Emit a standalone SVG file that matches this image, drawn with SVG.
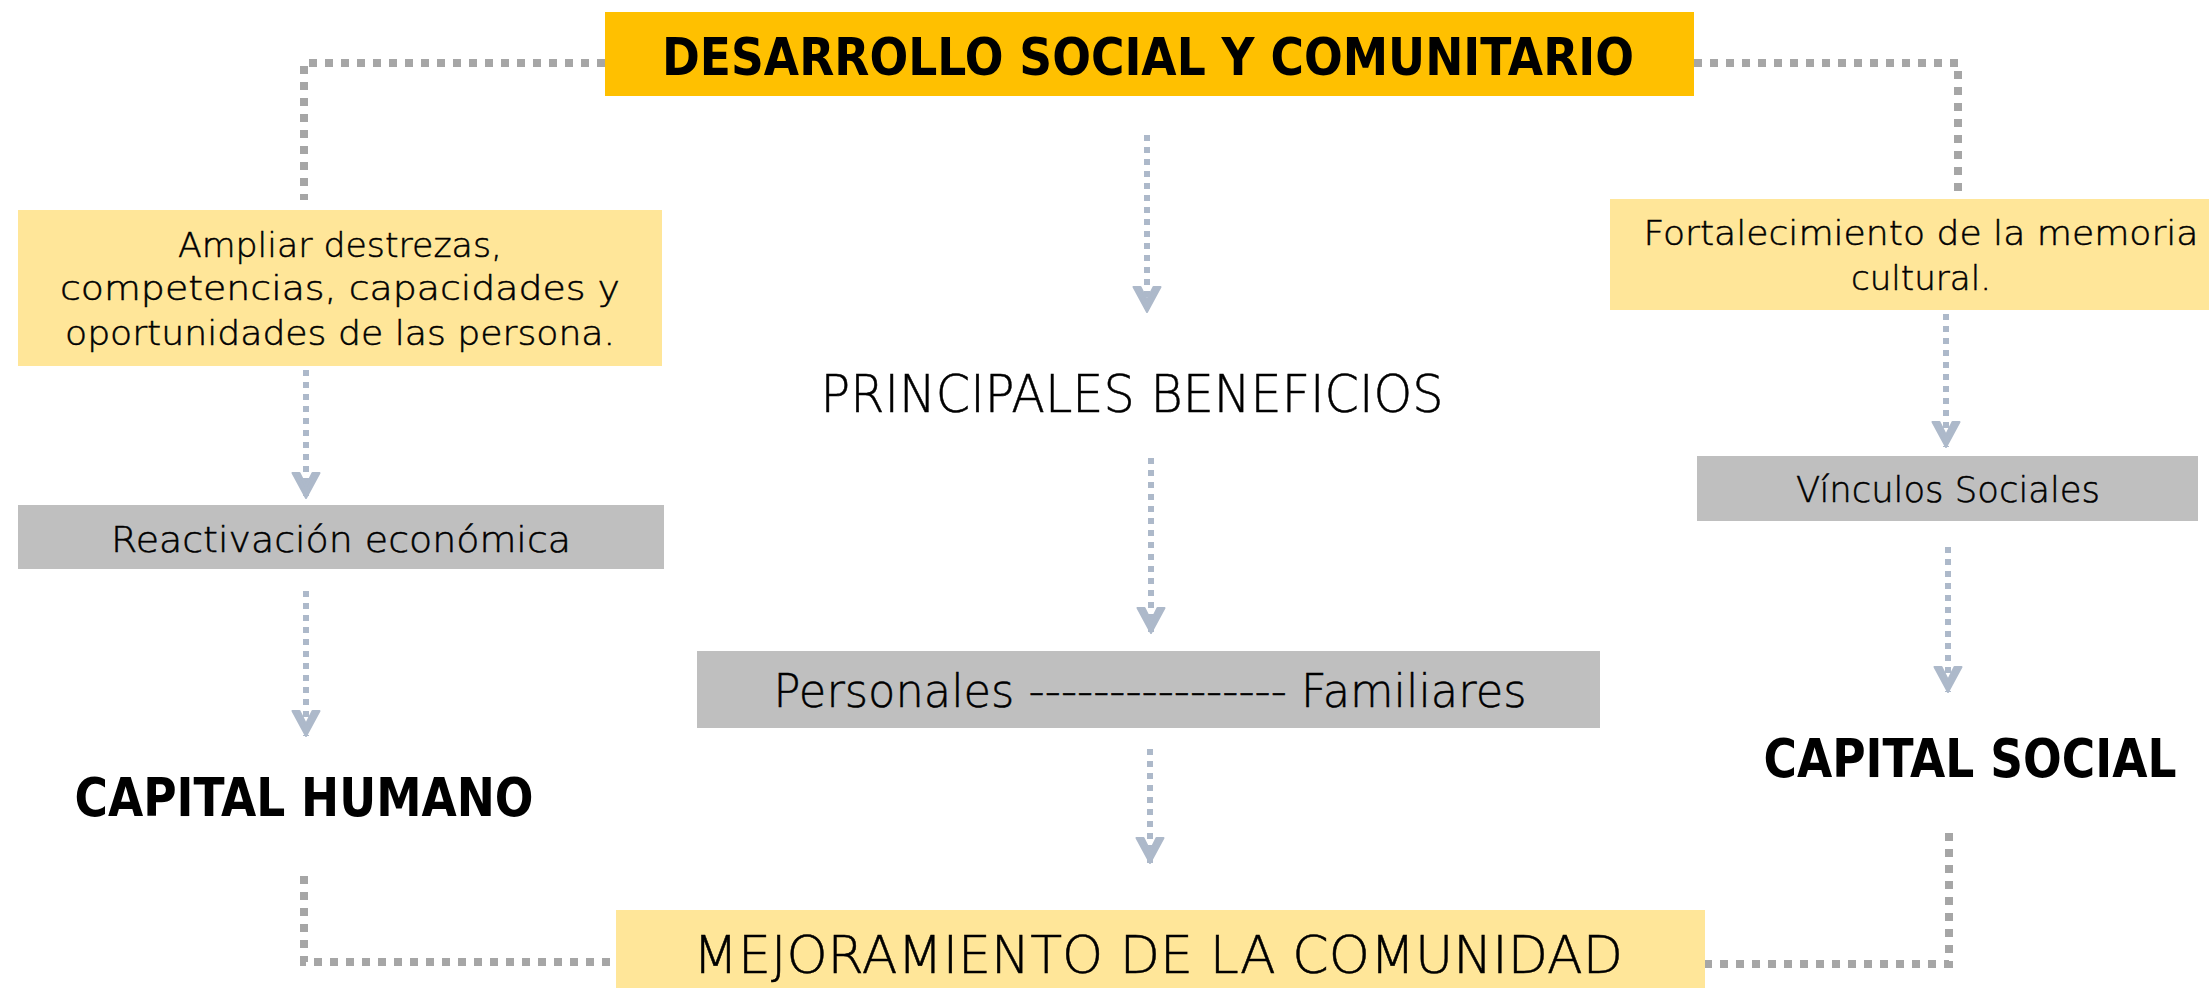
<svg xmlns="http://www.w3.org/2000/svg" width="2209" height="988" viewBox="0 0 2209 988">
  <style>
    .t { font-family: "DejaVu Sans", "Liberation Sans", sans-serif; fill: #000; text-anchor: middle; }
    .reg { font-weight: 200; stroke: #000; stroke-width: 0.5; }
    .bold { font-weight: bold; }
    .gold { fill: #FFC000; }
    .pale { fill: #FFE699; }
    .grey { fill: #BFBFBF; }
    .side { fill: none; stroke: #A6A6A6; stroke-width: 8; stroke-dasharray: 8 8; }
    .flow { fill: none; stroke: #ADB9CA; stroke-width: 6; stroke-dasharray: 6 6; marker-end: url(#arr); }
  </style>
  <defs>
    <marker id="arr" viewBox="-28 -16 30 32" refX="0" refY="0" markerWidth="30" markerHeight="32" markerUnits="userSpaceOnUse" orient="auto">
      <path d="M -25,-13.5 L 0,0 L -25,13.5 L -25,6.5 L -12,0 L -25,-6.5 Z" fill="#ADB9CA" stroke="#ADB9CA" stroke-width="2" stroke-linejoin="round"/>
    </marker>
  </defs>
  <rect width="2209" height="988" fill="#FFFFFF"/>

  <g id="connectors">
    <path class="side" d="M 605,63 L 304,63 L 304,200"/>
    <path class="side" d="M 1694,63 L 1958,63 L 1958,197"/>
    <path class="side" d="M 304,876 L 304,962 L 616,962"/>
    <path class="side" d="M 1949,833 L 1949,964 L 1705,964"/>
    <path class="flow" d="M 306,370 L 306,498"/>
    <path class="flow" d="M 306,591 L 306,736"/>
    <path class="flow" d="M 1147,135 L 1147,312"/>
    <path class="flow" d="M 1151,458 L 1151,633"/>
    <path class="flow" d="M 1150,749 L 1150,863"/>
    <path class="flow" d="M 1946,314 L 1946,447"/>
    <path class="flow" d="M 1948,547 L 1948,692"/>
  </g>

  <g id="desarrollo">
    <rect class="gold" x="605" y="12" width="1089" height="84"/>
    <text class="t bold" x="1148" y="75" font-size="52" textLength="972" lengthAdjust="spacingAndGlyphs">DESARROLLO SOCIAL Y COMUNITARIO</text>
  </g>

  <g id="ampliar">
    <rect class="pale" x="18" y="210" width="644" height="156"/>
    <text class="t reg" x="340" y="257" font-size="34" textLength="324" lengthAdjust="spacingAndGlyphs">Ampliar destrezas,</text>
    <text class="t reg" x="340" y="300" font-size="34" textLength="560" lengthAdjust="spacingAndGlyphs">competencias, capacidades y</text>
    <text class="t reg" x="340" y="345" font-size="34" textLength="550" lengthAdjust="spacingAndGlyphs">oportunidades de las persona.</text>
  </g>

  <g id="reactivacion">
    <rect class="grey" x="18" y="505" width="646" height="64"/>
    <text class="t reg" x="341" y="552" font-size="35" textLength="460" lengthAdjust="spacingAndGlyphs">Reactivación económica</text>
  </g>

  <g id="capital-humano">
    <text class="t bold" x="304" y="816" font-size="53" textLength="459" lengthAdjust="spacingAndGlyphs">CAPITAL HUMANO</text>
  </g>

  <g id="principales">
    <text class="t reg" x="1132" y="412" font-size="52" textLength="623" lengthAdjust="spacingAndGlyphs">PRINCIPALES BENEFICIOS</text>
  </g>

  <g id="personales">
    <rect class="grey" x="697" y="651" width="903" height="77"/>
    <text class="t reg" x="1150" y="707" font-size="46" textLength="753" lengthAdjust="spacingAndGlyphs">Personales ---------------- Familiares</text>
  </g>

  <g id="mejoramiento">
    <rect class="pale" x="616" y="910" width="1089" height="78"/>
    <text class="t reg" x="1158" y="973" font-size="52" textLength="930" lengthAdjust="spacingAndGlyphs">MEJORAMIENTO DE LA COMUNIDAD</text>
  </g>

  <g id="fortalecimiento">
    <rect class="pale" x="1610" y="199" width="599" height="111"/>
    <text class="t reg" x="1921" y="245" font-size="34" textLength="555" lengthAdjust="spacingAndGlyphs">Fortalecimiento de la memoria</text>
    <text class="t reg" x="1921" y="290" font-size="34" textLength="140" lengthAdjust="spacingAndGlyphs">cultural.</text>
  </g>

  <g id="vinculos">
    <rect class="grey" x="1697" y="456" width="501" height="65"/>
    <text class="t reg" x="1948" y="502" font-size="35" textLength="304" lengthAdjust="spacingAndGlyphs">Vínculos Sociales</text>
  </g>

  <g id="capital-social">
    <text class="t bold" x="1970" y="777" font-size="53" textLength="413" lengthAdjust="spacingAndGlyphs">CAPITAL SOCIAL</text>
  </g>
</svg>
